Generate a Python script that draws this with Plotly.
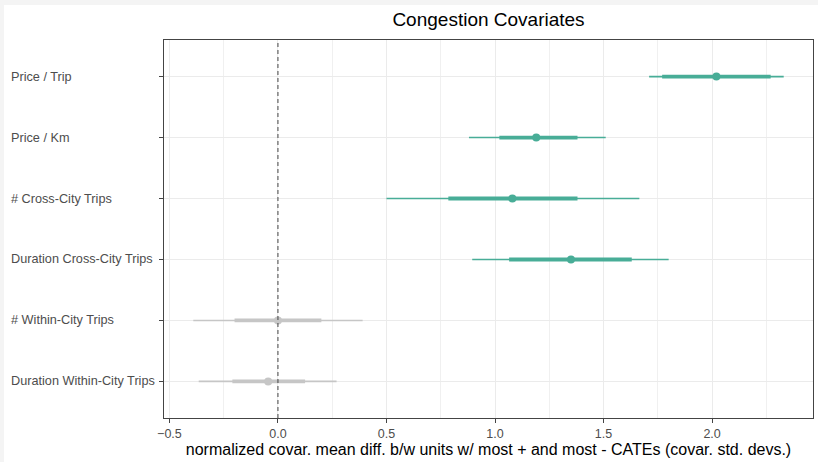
import plotly.graph_objects as go

# ---- data (top to bottom) ----
covariates = ["Price / Trip", "Price / Km", "# Cross-City Trips",
              "Duration Cross-City Trips", "# Within-City Trips",
              "Duration Within-City Trips"]
estimate = [2.02, 1.19, 1.08, 1.35, 0.0, -0.045]
lo_wide = [1.71, 0.88, 0.50, 0.895, -0.39, -0.365]
hi_wide = [2.33, 1.51, 1.665, 1.80, 0.39, 0.27]
lo_narrow = [1.77, 1.02, 0.785, 1.065, -0.20, -0.21]
hi_narrow = [2.27, 1.38, 1.38, 1.63, 0.20, 0.125]
x_ticks = [-0.5, 0.0, 0.5, 1.0, 1.5, 2.0]

TEAL = "#48ad97"
GREY = "#c6c6c6"
W, H = 818, 462
L, R, T, B = 164, 5, 40, 44
PW, PH = W - L - R, H - T - B

fig = go.Figure()
for i, name in enumerate(covariates):
    sig = lo_wide[i] > 0 or hi_wide[i] < 0
    col = TEAL if sig else GREY
    fig.add_trace(go.Scatter(x=[lo_wide[i], hi_wide[i]], y=[name, name], mode="lines",
                             line=dict(color=col, width=1.6), showlegend=False, hoverinfo="skip"))
    fig.add_trace(go.Scatter(x=[lo_narrow[i], hi_narrow[i]], y=[name, name], mode="lines",
                             line=dict(color=col, width=3.8), showlegend=False, hoverinfo="skip"))
    fig.add_trace(go.Scatter(x=[estimate[i]], y=[name], mode="markers",
                             marker=dict(color=col, size=8), showlegend=False))

# zero reference line
fig.add_shape(type="line", xref="x", yref="paper", x0=0, x1=0, y0=0, y1=1,
              line=dict(color="#444444", width=1, dash="4px,3px"), layer="above")

# light grey page edge (top/left)
fig.add_shape(type="rect", xref="paper", yref="paper",
              x0=(4 - L) / PW, x1=(W - L + 10) / PW,
              y0=(T + PH - H - 10) / PH, y1=(T + PH - 5) / PH,
              fillcolor="white", line=dict(width=0), layer="below")

# left-aligned category labels
for name in covariates:
    fig.add_annotation(x=0, xref="paper", y=name, yref="y", text=name, showarrow=False,
                       xanchor="left", xshift=10 - L, borderpad=0,
                       font=dict(size=12.7, color="#4d4d4d"))

fig.update_layout(
    width=W, height=H,
    margin=dict(l=L, r=R, t=T, b=B, pad=0),
    paper_bgcolor="#f4f4f4", plot_bgcolor="white",
    font=dict(family="Liberation Sans, Arial, sans-serif"),
    title=dict(text="Congestion Covariates", x=(L + PW / 2) / W, xanchor="center",
               y=1 - 19 / H, yanchor="middle", font=dict(size=19, color="black")),
)
fig.update_xaxes(
    range=[-0.525, 2.465], tickvals=x_ticks, tickformat=".1f",
    showgrid=True, gridcolor="#ebebeb", gridwidth=1.2,
    minor=dict(dtick=0.25, tick0=0, showgrid=True, gridcolor="#f0f0f0", gridwidth=1),
    zeroline=False, showline=True, mirror=True, linecolor="#444444", linewidth=1,
    ticks="outside", ticklen=4, tickcolor="#444444",
    tickfont=dict(size=12.5, color="#4d4d4d"),
    title=dict(text="normalized covar. mean diff. b/w units w/ most + and most - CATEs (covar. std. devs.)",
               font=dict(size=16, color="black"), standoff=3),
)
fig.update_yaxes(
    type="category", categoryorder="array", categoryarray=covariates[::-1],
    range=[-0.6, 5.6], showticklabels=False,
    showgrid=True, gridcolor="#ebebeb", gridwidth=1.2,
    zeroline=False, showline=True, mirror=True, linecolor="#444444", linewidth=1,
    ticks="outside", ticklen=4, tickcolor="#444444",
)

fig.write_html("out.html")
